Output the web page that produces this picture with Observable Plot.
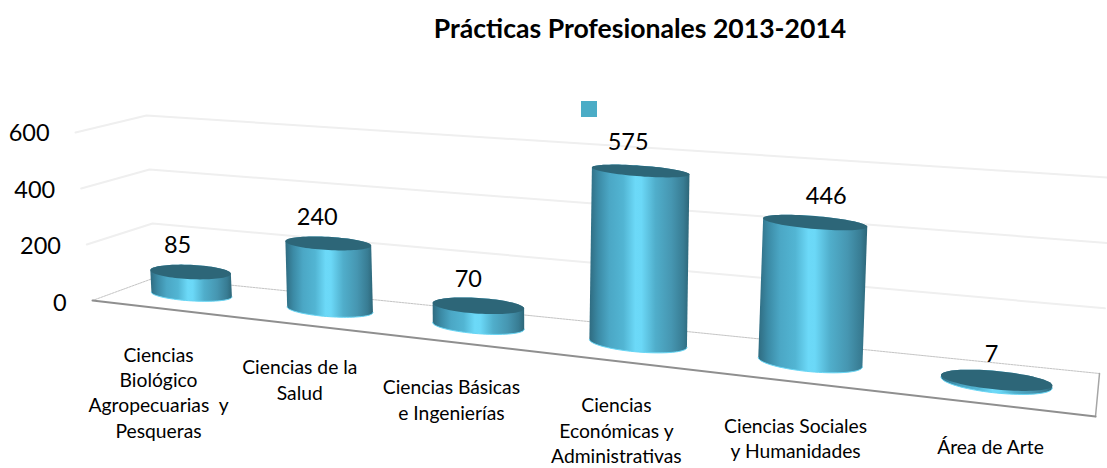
<!DOCTYPE html>
<html lang="es">
<head>
<meta charset="utf-8">
<script src="https://cdn.jsdelivr.net/npm/d3@7"></script>
<script src="https://cdn.jsdelivr.net/npm/@observablehq/plot@0.6"></script>
<style>
  html, body { margin: 0; padding: 0; background: #fff; overflow: hidden; }
  #wrap { position: relative; width: 1107px; height: 468px; }
  #title { position: absolute; left: 174px; width: 932px; top: 12px; text-align: center;
           font: 700 26.6px Lato, sans-serif; color: #000; }
  #key { position: absolute; left: 581px; top: 101px; width: 16px; height: 16px; background: #4bacc6; }
</style>
</head>
<body>
<div id="wrap">
  <div id="title">Prácticas Profesionales 2013-2014</div>
  <div id="key"></div>
  <div id="chart"></div>
</div>
<script>
const categories = [
  "Ciencias\nBiológico\nAgropecuarias  y\nPesqueras",
  "Ciencias de la\nSalud",
  "Ciencias Básicas\ne Ingenierías",
  "Ciencias\nEconómicas y\nAdministrativas",
  "Ciencias Sociales\ny Humanidades",
  "Área de Arte"
];
const values = [85, 240, 70, 575, 446, 7];
const valueTicks = [0, 200, 400, 600];

// Scene perspective, in data units (x: category widths, y: chart values)
const along = i => { const u = (i + 0.5) / 6; return u * 0.8 / (1 - 0.2 * u); };
const base = t => ({x: 0.2 + 5.8 * t, y: 57 - 374.2 * t});
const rise = t => 0.918 + 0.265 * t;
const topOf = (i, v) => {
  const t = along(i), b = base(t);
  return {x: b.x + (-0.054 + 0.132 * t) * v / 600, y: b.y + rise(t) * v};
};
const arc = (c, rx, ry, tilt, a0, a1, n, id) =>
  d3.range(n + 1).map(k => {
    const a = a0 + (a1 - a0) * k / n;
    return {id, x: c.x + rx * Math.cos(a), y: c.y + ry * Math.sin(a) - tilt * rx * Math.cos(a)};
  });

const bodies = [], caps = [], rims = [];
values.forEach((v, i) => {
  const t = along(i), b = base(t), c = topOf(i, v);
  const rx = 0.2333 + 0.1107 * t;
  const ryTop = 26.5 + 7.06 * t - v / 51;
  const ryBot = 21.2 + 17.6 * t;
  const tiltTop = 23.6 + 35.4 * t, tiltBot = 32.5 + 29.5 * t;
  const under = arc(b, rx, ryBot, tiltBot, 0, -Math.PI, 40, i);
  bodies.push(...arc(c, rx, ryTop, tiltTop, Math.PI, 0, 40, i), ...under);
  rims.push(...under);
  caps.push(...arc(c, rx, ryTop, tiltTop, 0, 2 * Math.PI, 80, i));
});

// Wall and floor lines
const frontLeft = v => ({x: 0 - 0.1017 * v / 600, y: 10.6 + 0.988 * v});
const backLeft = v => ({x: 0.377 - 0.054 * v / 600, y: 91.8 + 0.953 * v});
const backRight = v => ({x: 6.024 + 0.0967 * v / 600, y: -247.1 + 1.15 * v});
const frontRight = {x: 6, y: -398.9};
const gridLines = valueTicks.filter(v => v > 0).flatMap(v =>
  [frontLeft(v), backLeft(v), backRight(v)].map(p => ({...p, id: v})));
const floorBack = [frontLeft(0), backLeft(0), backRight(0)];
const floorFront = [frontLeft(0), frontRight];
const floorRight = [backRight(0), frontRight];

// Label placement, in data units
const labelShiftX = [-0.078, -0.066, -0.06, -0.075, 0.066, -0.03];
const labelShiftY = [92, 92, 92, 100, 92, 92];
const valueLabels = values.map((v, i) => {
  const c = topOf(i, v);
  return {x: c.x + labelShiftX[i], y: c.y + labelShiftY[i], text: String(v)};
});
const categoryX = [0.395, 1.24, 2.147, 3.134, 4.206, 5.372];
const categoryY = [-311, -266, -336, -445, -473, -502];
const categoryLabels = categories.map((text, i) => ({x: categoryX[i], y: categoryY[i], text}));
const tickLabels = valueTicks.map(v => ({x: frontLeft(v).x - 0.155, y: v, text: String(v)}));

const gradient = () => {
  const ns = "http://www.w3.org/2000/svg";
  const defs = document.createElementNS(ns, "defs");
  const g = document.createElementNS(ns, "linearGradient");
  g.setAttribute("id", "cyl");
  [[0, "#2f6b80"], [0.09, "#3b8aa5"], [0.2, "#4ba7c5"], [0.34, "#52b5d3"], [0.46, "#6cd9f8"],
   [0.52, "#6bd8f7"], [0.66, "#50aecb"], [0.82, "#4696b1"], [0.94, "#387c93"], [1, "#2d6678"]]
    .forEach(([o, c]) => {
      const s = document.createElementNS(ns, "stop");
      s.setAttribute("offset", o);
      s.setAttribute("stop-color", c);
      g.appendChild(s);
    });
  defs.appendChild(g);
  return defs;
};

const chart = Plot.plot({
  width: 1107,
  height: 468,
  marginTop: 0, marginRight: 0, marginBottom: 0, marginLeft: 0,
  style: {background: "#fff", fontFamily: "Lato, sans-serif"},
  x: {domain: [0, 6], range: [92, 1095], axis: null},
  y: {domain: [0, 600], range: [303, 133], axis: null},
  marks: [
    gradient,
    Plot.line(gridLines, {x: "x", y: "y", z: "id", stroke: "#efefef", strokeWidth: 2}),
    Plot.line(floorBack, {x: "x", y: "y", stroke: "#c4c4c4", strokeWidth: 1, strokeDasharray: "2,1"}),
    Plot.line(floorRight, {x: "x", y: "y", stroke: "#a6a6a6", strokeWidth: 1.5}),
    Plot.line(floorFront, {x: "x", y: "y", stroke: "#8f8f8f", strokeWidth: 2}),
    Plot.line(bodies, {x: "x", y: "y", z: "id", fill: "url(#cyl)", stroke: "none"}),
    Plot.line(rims, {x: "x", y: "y", z: "id", stroke: "#67d6f5", strokeWidth: 1}),
    Plot.line(caps, {x: "x", y: "y", z: "id", fill: "#2d6678", stroke: "none"}),
    Plot.text(valueLabels, {x: "x", y: "y", text: "text", fontSize: 23.5, fill: "#000"}),
    Plot.text(tickLabels, {x: "x", y: "y", text: "text", fontSize: 23.5, fill: "#000", textAnchor: "end"}),
    Plot.text(categoryLabels, {x: "x", y: "y", text: "text", fontSize: 19.3, fill: "#000", lineHeight: 1.32})
  ]
});
document.getElementById("chart").appendChild(chart);
</script>
</body>
</html>
